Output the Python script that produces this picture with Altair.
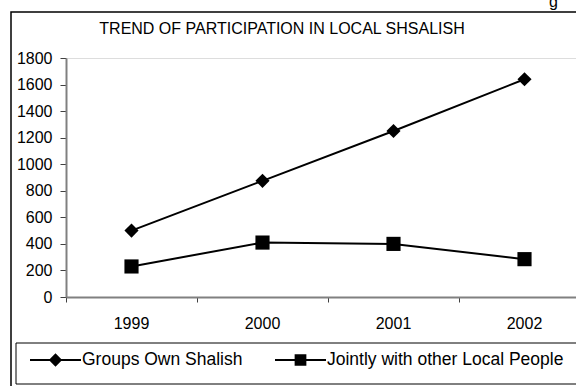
import altair as alt
import pandas as pd

# ---- data ----
years = [1999, 2000, 2001, 2002]
groups_own = [500, 875, 1250, 1640]
jointly = [230, 410, 400, 285]
series_names = ["Groups Own Shalish", "Jointly with other Local People"]
y_ticks = [0, 200, 400, 600, 800, 1000, 1200, 1400, 1600, 1800]
x_tick_marks = [1998.5, 1999.5, 2000.5, 2001.5]
title_text = "TREND OF PARTICIPATION IN LOCAL SHSALISH"

rows = []
for name, vals in zip(series_names, [groups_own, jointly]):
    for yr, v in zip(years, vals):
        rows.append({"year": yr, "value": v, "series": name})
df = pd.DataFrame(rows)
year_df = pd.DataFrame({"year": years, "label": [str(y) for y in years]})

FONT = "Liberation Sans"
W, H = 510, 239
STEP = 131
x_domain = [1998.5, 1998.5 + W / STEP]

x_enc = alt.X(
    "year:Q",
    scale=alt.Scale(domain=x_domain, nice=False, zero=False),
    axis=alt.Axis(
        values=x_tick_marks, labels=False, title=None, grid=False, zindex=2,
        tickSize=5, domainColor="#808080", domainWidth=2, tickColor="#404040",
    ),
)
y_enc = alt.Y(
    "value:Q",
    scale=alt.Scale(domain=[0, 1800], nice=False),
    axis=alt.Axis(
        values=y_ticks, format="d", title=None, grid=False, labelFlush=False, zindex=2,
        tickSize=6, labelPadding=8, labelFontSize=16, labelColor="black",
        domainColor="#808080", domainWidth=2, tickColor="#404040",
    ),
)

one = pd.DataFrame({"k": [0]})

frame = alt.Chart(one).mark_rect(fill="white", fillOpacity=0, stroke="black", strokeWidth=1.5).encode(
    x=alt.value(-55), x2=alt.value(700), y=alt.value(-46), y2=alt.value(600)
)
legend_box = alt.Chart(one).mark_rect(fill="white", fillOpacity=0, stroke="black", strokeWidth=1).encode(
    x=alt.value(-50), x2=alt.value(700), y=alt.value(285), y2=alt.value(326)
)

lines = alt.Chart(df).mark_line(color="black", strokeWidth=2).encode(
    x=x_enc, y=y_enc, detail="series:N"
)
points = alt.Chart(df).mark_point(filled=True, color="black", opacity=1).encode(
    x=x_enc, y=y_enc,
    shape=alt.Shape("series:N", scale=alt.Scale(domain=series_names, range=["diamond", "square"]), legend=None),
    size=alt.Size("series:N", scale=alt.Scale(domain=series_names, range=[200, 200]), legend=None),
)

# category labels of the x axis, placed through the x scale
x_labels = alt.Chart(year_df).mark_text(
    fontSize=16, font=FONT, color="black", align="center", baseline="alphabetic"
).encode(x=x_enc, y=alt.value(H + 32), text="label:N")

path_diamond = "M-1,-0.04H1V0.04H-1ZM0,-0.26L0.26,0L0,0.26L-0.26,0Z"
path_square = "M-1,-0.04H1V0.04H-1ZM-0.23,-0.23H0.23V0.23H-0.23Z"
legend_layer = alt.Chart(df).mark_point(
    filled=True, color="black", size=2600, opacity=1
).encode(
    x=x_enc,
    y=alt.value(-2000),
    shape=alt.Shape(
        "series:N",
        scale=alt.Scale(domain=series_names, range=[path_diamond, path_square]),
        legend=alt.Legend(
            title=None, orient="none", direction="horizontal",
            legendX=-36, legendY=276.5, padding=0,
            symbolSize=2600, symbolStrokeWidth=0,
            symbolFillColor="black", labelFontSize=17.5, labelFont=FONT,
            labelColor="black", labelLimit=0, labelOffset=1, columnPadding=32,
        ),
    ),
)

title = alt.Chart(one).mark_text(
    text=title_text, fontSize=16, font=FONT, color="black", align="center", baseline="alphabetic"
).encode(x=alt.value(216), y=alt.value(-24))

frag = alt.Chart(one).mark_text(
    text="g", fontSize=16, font=FONT, color="black", align="left", baseline="alphabetic"
).encode(x=alt.value(483), y=alt.value(-51.5))

chart = alt.layer(frame, legend_box, lines, points, x_labels, legend_layer, title, frag).resolve_scale(
    shape="independent", size="independent"
).properties(
    width=W, height=H,
    padding={"left": 66, "top": 58, "right": 0, "bottom": 89},
    autosize=alt.AutoSizeParams(type="none"),
    background="white",
).configure_view(stroke=None).configure(font=FONT)

chart.save("out.html", embed_options={"renderer": "svg", "actions": False})
